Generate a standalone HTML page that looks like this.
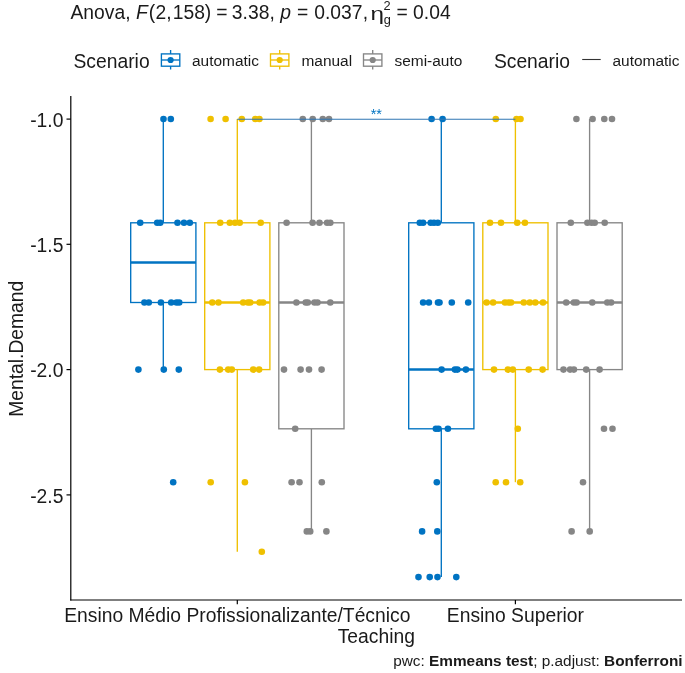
<!DOCTYPE html><html><head><meta charset="utf-8"><style>html,body{margin:0;padding:0;background:#fff;}svg{display:block;will-change:transform;}text{font-family:"Liberation Sans",sans-serif;}</style></head><body>
<svg width="685" height="673" viewBox="0 0 685 673">
<rect width="685" height="673" fill="#fff"/>
<text x="70.5" y="19" font-size="19.3" fill="#1a1a1a">Anova, <tspan font-style="italic">F</tspan><tspan dx="1.0">(</tspan><tspan dx="0.5">2,</tspan><tspan dx="1.0">158)</tspan> <tspan dx="-0.5">=</tspan> <tspan dx="-0.9">3.38,</tspan> <tspan dx="0.1" font-style="italic">p</tspan> <tspan dx="0.6">=</tspan> <tspan dx="0.7">0.037</tspan><tspan dx="0.2">,</tspan></text>
<g transform="translate(370.5,19.5) scale(1.26,0.93)"><text x="0" y="0" font-size="19.3" fill="#1a1a1a">η</text></g>
<text x="383.6" y="10" font-size="12.8" fill="#1a1a1a">2</text>
<text x="383.8" y="24.4" font-size="12.8" fill="#1a1a1a">g</text>
<text x="396.5" y="19" font-size="19.3" fill="#1a1a1a">= 0.04</text>
<text x="73.5" y="67.9" font-size="19.3" fill="#1a1a1a">Scenario</text>
<line x1="170.6" y1="50" x2="170.6" y2="69.5" stroke="#0073C2" stroke-width="1.35"/><rect x="161.4" y="53.9" width="18.4" height="12.3" fill="#fff" stroke="#0073C2" stroke-width="1.35"/><line x1="161.4" y1="60" x2="179.79999999999998" y2="60" stroke="#0073C2" stroke-width="1.35"/><circle cx="170.6" cy="60" r="3.1" fill="#0073C2"/>
<text x="192" y="66" font-size="15.44" fill="#1a1a1a">automatic</text>
<line x1="279.7" y1="50" x2="279.7" y2="69.5" stroke="#EFC000" stroke-width="1.35"/><rect x="270.5" y="53.9" width="18.4" height="12.3" fill="#fff" stroke="#EFC000" stroke-width="1.35"/><line x1="270.5" y1="60" x2="288.9" y2="60" stroke="#EFC000" stroke-width="1.35"/><circle cx="279.7" cy="60" r="3.1" fill="#EFC000"/>
<text x="301.5" y="66" font-size="15.44" fill="#1a1a1a">manual</text>
<line x1="372.7" y1="50" x2="372.7" y2="69.5" stroke="#868686" stroke-width="1.35"/><rect x="363.5" y="53.9" width="18.4" height="12.3" fill="#fff" stroke="#868686" stroke-width="1.35"/><line x1="363.5" y1="60" x2="381.9" y2="60" stroke="#868686" stroke-width="1.35"/><circle cx="372.7" cy="60" r="3.1" fill="#868686"/>
<text x="394.5" y="66" font-size="15.44" fill="#1a1a1a">semi-auto</text>
<text x="493.9" y="67.9" font-size="19.3" fill="#1a1a1a">Scenario</text>
<line x1="582.2" y1="59.5" x2="600.7" y2="59.5" stroke="#333" stroke-width="1.1"/>
<text x="612.5" y="66" font-size="15.44" fill="#1a1a1a">automatic</text>
<line x1="70.8" y1="96" x2="70.8" y2="600.6" stroke="#000" stroke-width="1.2"/>
<line x1="70.2" y1="600" x2="682" y2="600" stroke="#000" stroke-width="1.2"/>
<line x1="66.5" y1="119.1" x2="70.8" y2="119.1" stroke="#000" stroke-width="1.2"/>
<text x="63.4" y="126.89999999999999" font-size="19.3" fill="#1a1a1a" text-anchor="end">-1.0</text>
<line x1="66.5" y1="244.3" x2="70.8" y2="244.3" stroke="#000" stroke-width="1.2"/>
<text x="63.4" y="252.10000000000002" font-size="19.3" fill="#1a1a1a" text-anchor="end">-1.5</text>
<line x1="66.5" y1="369.6" x2="70.8" y2="369.6" stroke="#000" stroke-width="1.2"/>
<text x="63.4" y="377.40000000000003" font-size="19.3" fill="#1a1a1a" text-anchor="end">-2.0</text>
<line x1="66.5" y1="494.9" x2="70.8" y2="494.9" stroke="#000" stroke-width="1.2"/>
<text x="63.4" y="502.7" font-size="19.3" fill="#1a1a1a" text-anchor="end">-2.5</text>
<line x1="237.3" y1="600" x2="237.3" y2="604.3" stroke="#000" stroke-width="1.2"/>
<line x1="515.4" y1="600" x2="515.4" y2="604.3" stroke="#000" stroke-width="1.2"/>
<text x="237.3" y="621.6" font-size="19.3" fill="#1a1a1a" text-anchor="middle">Ensino Médio Profissionalizante/Técnico</text>
<text x="515.4" y="621.6" font-size="19.3" fill="#1a1a1a" text-anchor="middle">Ensino Superior</text>
<text x="376.3" y="642.6" font-size="19.3" fill="#1a1a1a" text-anchor="middle">Teaching</text>
<text transform="translate(22.6,348.8) rotate(-90)" font-size="19.3" fill="#1a1a1a" text-anchor="middle">Mental.Demand</text>
<text x="682.6" y="666.4" font-size="15.36" fill="#1a1a1a" text-anchor="end">pwc: <tspan font-weight="bold">Emmeans test</tspan>; p.adjust: <tspan font-weight="bold">Bonferroni</tspan></text>
<line x1="163.3" y1="119" x2="163.3" y2="222.8" stroke="#0073C2" stroke-width="1.35"/>
<line x1="163.3" y1="302.5" x2="163.3" y2="369.6" stroke="#0073C2" stroke-width="1.35"/>
<rect x="130.70000000000002" y="222.8" width="65.2" height="79.69999999999999" fill="#fff" stroke="#0073C2" stroke-width="1.35"/>
<line x1="130.70000000000002" y1="262.6" x2="195.9" y2="262.6" stroke="#0073C2" stroke-width="2.5"/>
<line x1="237.3" y1="119" x2="237.3" y2="222.8" stroke="#EFC000" stroke-width="1.35"/>
<line x1="237.3" y1="369.6" x2="237.3" y2="551.7" stroke="#EFC000" stroke-width="1.35"/>
<rect x="204.70000000000002" y="222.8" width="65.2" height="146.8" fill="#fff" stroke="#EFC000" stroke-width="1.35"/>
<line x1="204.70000000000002" y1="302.5" x2="269.90000000000003" y2="302.5" stroke="#EFC000" stroke-width="2.5"/>
<line x1="311.4" y1="119" x2="311.4" y2="222.8" stroke="#868686" stroke-width="1.35"/>
<line x1="311.4" y1="428.8" x2="311.4" y2="531.4" stroke="#868686" stroke-width="1.35"/>
<rect x="278.79999999999995" y="222.8" width="65.2" height="206.0" fill="#fff" stroke="#868686" stroke-width="1.35"/>
<line x1="278.79999999999995" y1="302.5" x2="344.0" y2="302.5" stroke="#868686" stroke-width="2.5"/>
<line x1="441.3" y1="119" x2="441.3" y2="222.8" stroke="#0073C2" stroke-width="1.35"/>
<line x1="441.3" y1="428.8" x2="441.3" y2="577.1" stroke="#0073C2" stroke-width="1.35"/>
<rect x="408.7" y="222.8" width="65.2" height="206.0" fill="#fff" stroke="#0073C2" stroke-width="1.35"/>
<line x1="408.7" y1="369.6" x2="473.90000000000003" y2="369.6" stroke="#0073C2" stroke-width="2.5"/>
<line x1="515.4" y1="119" x2="515.4" y2="222.8" stroke="#EFC000" stroke-width="1.35"/>
<line x1="515.4" y1="369.6" x2="515.4" y2="482.2" stroke="#EFC000" stroke-width="1.35"/>
<rect x="482.79999999999995" y="222.8" width="65.2" height="146.8" fill="#fff" stroke="#EFC000" stroke-width="1.35"/>
<line x1="482.79999999999995" y1="302.5" x2="548.0" y2="302.5" stroke="#EFC000" stroke-width="2.5"/>
<line x1="589.6" y1="119" x2="589.6" y2="222.8" stroke="#868686" stroke-width="1.35"/>
<line x1="589.6" y1="369.6" x2="589.6" y2="531.4" stroke="#868686" stroke-width="1.35"/>
<rect x="557.0" y="222.8" width="65.2" height="146.8" fill="#fff" stroke="#868686" stroke-width="1.35"/>
<line x1="557.0" y1="302.5" x2="622.2" y2="302.5" stroke="#868686" stroke-width="2.5"/>
<circle cx="163.5" cy="119" r="3.3" fill="#0073C2"/>
<circle cx="170.8" cy="119" r="3.3" fill="#0073C2"/>
<circle cx="140.2" cy="222.8" r="3.3" fill="#0073C2"/>
<circle cx="157.2" cy="222.8" r="3.3" fill="#0073C2"/>
<circle cx="160.2" cy="222.8" r="3.3" fill="#0073C2"/>
<circle cx="177.5" cy="222.8" r="3.3" fill="#0073C2"/>
<circle cx="184" cy="222.8" r="3.3" fill="#0073C2"/>
<circle cx="189.8" cy="222.8" r="3.3" fill="#0073C2"/>
<circle cx="144.4" cy="302.5" r="3.3" fill="#0073C2"/>
<circle cx="148.8" cy="302.5" r="3.3" fill="#0073C2"/>
<circle cx="160.9" cy="302.5" r="3.3" fill="#0073C2"/>
<circle cx="171.2" cy="302.5" r="3.3" fill="#0073C2"/>
<circle cx="176.5" cy="302.5" r="3.3" fill="#0073C2"/>
<circle cx="179.2" cy="302.5" r="3.3" fill="#0073C2"/>
<circle cx="138.4" cy="369.6" r="3.3" fill="#0073C2"/>
<circle cx="163.8" cy="369.6" r="3.3" fill="#0073C2"/>
<circle cx="178.8" cy="369.6" r="3.3" fill="#0073C2"/>
<circle cx="173.2" cy="482.2" r="3.3" fill="#0073C2"/>
<circle cx="210.6" cy="119" r="3.3" fill="#EFC000"/>
<circle cx="225.6" cy="119" r="3.3" fill="#EFC000"/>
<circle cx="241.8" cy="119" r="3.3" fill="#EFC000"/>
<circle cx="255.3" cy="119" r="3.3" fill="#EFC000"/>
<circle cx="259.4" cy="119" r="3.3" fill="#EFC000"/>
<circle cx="220.2" cy="222.8" r="3.3" fill="#EFC000"/>
<circle cx="229.8" cy="222.8" r="3.3" fill="#EFC000"/>
<circle cx="235" cy="222.8" r="3.3" fill="#EFC000"/>
<circle cx="239.7" cy="222.8" r="3.3" fill="#EFC000"/>
<circle cx="260.7" cy="222.8" r="3.3" fill="#EFC000"/>
<circle cx="212.3" cy="302.5" r="3.3" fill="#EFC000"/>
<circle cx="218.5" cy="302.5" r="3.3" fill="#EFC000"/>
<circle cx="243.2" cy="302.5" r="3.3" fill="#EFC000"/>
<circle cx="247.9" cy="302.5" r="3.3" fill="#EFC000"/>
<circle cx="250.2" cy="302.5" r="3.3" fill="#EFC000"/>
<circle cx="259.6" cy="302.5" r="3.3" fill="#EFC000"/>
<circle cx="263.1" cy="302.5" r="3.3" fill="#EFC000"/>
<circle cx="219.9" cy="369.6" r="3.3" fill="#EFC000"/>
<circle cx="228.2" cy="369.6" r="3.3" fill="#EFC000"/>
<circle cx="231.8" cy="369.6" r="3.3" fill="#EFC000"/>
<circle cx="253.2" cy="369.6" r="3.3" fill="#EFC000"/>
<circle cx="259.1" cy="369.6" r="3.3" fill="#EFC000"/>
<circle cx="210.7" cy="482.2" r="3.3" fill="#EFC000"/>
<circle cx="244.9" cy="482.2" r="3.3" fill="#EFC000"/>
<circle cx="261.8" cy="551.7" r="3.3" fill="#EFC000"/>
<circle cx="302.8" cy="119" r="3.3" fill="#868686"/>
<circle cx="312.7" cy="119" r="3.3" fill="#868686"/>
<circle cx="322.8" cy="119" r="3.3" fill="#868686"/>
<circle cx="329.0" cy="119" r="3.3" fill="#868686"/>
<circle cx="286.6" cy="222.8" r="3.3" fill="#868686"/>
<circle cx="312.6" cy="222.8" r="3.3" fill="#868686"/>
<circle cx="319.5" cy="222.8" r="3.3" fill="#868686"/>
<circle cx="327.1" cy="222.8" r="3.3" fill="#868686"/>
<circle cx="330.3" cy="222.8" r="3.3" fill="#868686"/>
<circle cx="296.4" cy="302.5" r="3.3" fill="#868686"/>
<circle cx="305.7" cy="302.5" r="3.3" fill="#868686"/>
<circle cx="307.8" cy="302.5" r="3.3" fill="#868686"/>
<circle cx="314.5" cy="302.5" r="3.3" fill="#868686"/>
<circle cx="317.5" cy="302.5" r="3.3" fill="#868686"/>
<circle cx="330.3" cy="302.5" r="3.3" fill="#868686"/>
<circle cx="284" cy="369.6" r="3.3" fill="#868686"/>
<circle cx="300.6" cy="369.6" r="3.3" fill="#868686"/>
<circle cx="309" cy="369.6" r="3.3" fill="#868686"/>
<circle cx="321.6" cy="369.6" r="3.3" fill="#868686"/>
<circle cx="295.2" cy="428.8" r="3.3" fill="#868686"/>
<circle cx="291.6" cy="482.2" r="3.3" fill="#868686"/>
<circle cx="299.5" cy="482.2" r="3.3" fill="#868686"/>
<circle cx="321.8" cy="482.2" r="3.3" fill="#868686"/>
<circle cx="306.8" cy="531.4" r="3.3" fill="#868686"/>
<circle cx="310.2" cy="531.4" r="3.3" fill="#868686"/>
<circle cx="326.4" cy="531.4" r="3.3" fill="#868686"/>
<circle cx="431.6" cy="119" r="3.3" fill="#0073C2"/>
<circle cx="442.6" cy="119" r="3.3" fill="#0073C2"/>
<circle cx="419.8" cy="222.8" r="3.3" fill="#0073C2"/>
<circle cx="423.1" cy="222.8" r="3.3" fill="#0073C2"/>
<circle cx="430.7" cy="222.8" r="3.3" fill="#0073C2"/>
<circle cx="434" cy="222.8" r="3.3" fill="#0073C2"/>
<circle cx="437.8" cy="222.8" r="3.3" fill="#0073C2"/>
<circle cx="423.1" cy="302.5" r="3.3" fill="#0073C2"/>
<circle cx="428.9" cy="302.5" r="3.3" fill="#0073C2"/>
<circle cx="438" cy="302.5" r="3.3" fill="#0073C2"/>
<circle cx="439.5" cy="302.5" r="3.3" fill="#0073C2"/>
<circle cx="451.8" cy="302.5" r="3.3" fill="#0073C2"/>
<circle cx="468.2" cy="302.5" r="3.3" fill="#0073C2"/>
<circle cx="441.6" cy="369.6" r="3.3" fill="#0073C2"/>
<circle cx="454.9" cy="369.6" r="3.3" fill="#0073C2"/>
<circle cx="457.4" cy="369.6" r="3.3" fill="#0073C2"/>
<circle cx="465.9" cy="369.6" r="3.3" fill="#0073C2"/>
<circle cx="435.9" cy="428.8" r="3.3" fill="#0073C2"/>
<circle cx="438.5" cy="428.8" r="3.3" fill="#0073C2"/>
<circle cx="447.9" cy="428.8" r="3.3" fill="#0073C2"/>
<circle cx="436.8" cy="482.2" r="3.3" fill="#0073C2"/>
<circle cx="422.1" cy="531.4" r="3.3" fill="#0073C2"/>
<circle cx="437.3" cy="531.4" r="3.3" fill="#0073C2"/>
<circle cx="418.5" cy="577.1" r="3.3" fill="#0073C2"/>
<circle cx="429.7" cy="577.1" r="3.3" fill="#0073C2"/>
<circle cx="437.5" cy="577.1" r="3.3" fill="#0073C2"/>
<circle cx="456.3" cy="577.1" r="3.3" fill="#0073C2"/>
<circle cx="495.8" cy="119" r="3.3" fill="#EFC000"/>
<circle cx="516.5" cy="119" r="3.3" fill="#EFC000"/>
<circle cx="520.5" cy="119" r="3.3" fill="#EFC000"/>
<circle cx="490" cy="222.8" r="3.3" fill="#EFC000"/>
<circle cx="501" cy="222.8" r="3.3" fill="#EFC000"/>
<circle cx="517.2" cy="222.8" r="3.3" fill="#EFC000"/>
<circle cx="524.9" cy="222.8" r="3.3" fill="#EFC000"/>
<circle cx="486.6" cy="302.5" r="3.3" fill="#EFC000"/>
<circle cx="493.1" cy="302.5" r="3.3" fill="#EFC000"/>
<circle cx="505" cy="302.5" r="3.3" fill="#EFC000"/>
<circle cx="508.5" cy="302.5" r="3.3" fill="#EFC000"/>
<circle cx="511" cy="302.5" r="3.3" fill="#EFC000"/>
<circle cx="523.8" cy="302.5" r="3.3" fill="#EFC000"/>
<circle cx="529.8" cy="302.5" r="3.3" fill="#EFC000"/>
<circle cx="535.3" cy="302.5" r="3.3" fill="#EFC000"/>
<circle cx="543" cy="302.5" r="3.3" fill="#EFC000"/>
<circle cx="494" cy="369.6" r="3.3" fill="#EFC000"/>
<circle cx="507.9" cy="369.6" r="3.3" fill="#EFC000"/>
<circle cx="512.8" cy="369.6" r="3.3" fill="#EFC000"/>
<circle cx="528.7" cy="369.6" r="3.3" fill="#EFC000"/>
<circle cx="542.6" cy="369.6" r="3.3" fill="#EFC000"/>
<circle cx="517.8" cy="428.8" r="3.3" fill="#EFC000"/>
<circle cx="495.7" cy="482.2" r="3.3" fill="#EFC000"/>
<circle cx="506" cy="482.2" r="3.3" fill="#EFC000"/>
<circle cx="520.2" cy="482.2" r="3.3" fill="#EFC000"/>
<circle cx="576.4" cy="119" r="3.3" fill="#868686"/>
<circle cx="592.6" cy="119" r="3.3" fill="#868686"/>
<circle cx="604.3" cy="119" r="3.3" fill="#868686"/>
<circle cx="612" cy="119" r="3.3" fill="#868686"/>
<circle cx="570.8" cy="222.8" r="3.3" fill="#868686"/>
<circle cx="587.4" cy="222.8" r="3.3" fill="#868686"/>
<circle cx="591.6" cy="222.8" r="3.3" fill="#868686"/>
<circle cx="594.7" cy="222.8" r="3.3" fill="#868686"/>
<circle cx="604.7" cy="222.8" r="3.3" fill="#868686"/>
<circle cx="566.2" cy="302.5" r="3.3" fill="#868686"/>
<circle cx="573.9" cy="302.5" r="3.3" fill="#868686"/>
<circle cx="576.6" cy="302.5" r="3.3" fill="#868686"/>
<circle cx="592.3" cy="302.5" r="3.3" fill="#868686"/>
<circle cx="607.3" cy="302.5" r="3.3" fill="#868686"/>
<circle cx="611.1" cy="302.5" r="3.3" fill="#868686"/>
<circle cx="563.5" cy="369.6" r="3.3" fill="#868686"/>
<circle cx="570.1" cy="369.6" r="3.3" fill="#868686"/>
<circle cx="573.9" cy="369.6" r="3.3" fill="#868686"/>
<circle cx="586.2" cy="369.6" r="3.3" fill="#868686"/>
<circle cx="599.6" cy="369.6" r="3.3" fill="#868686"/>
<circle cx="604" cy="428.8" r="3.3" fill="#868686"/>
<circle cx="612.5" cy="428.8" r="3.3" fill="#868686"/>
<circle cx="583" cy="482.2" r="3.3" fill="#868686"/>
<circle cx="571.6" cy="531.4" r="3.3" fill="#868686"/>
<circle cx="589.7" cy="531.4" r="3.3" fill="#868686"/>
<line x1="237.3" y1="119.2" x2="515.4" y2="119.2" stroke="#2f76b3" stroke-width="1.1"/>
<text x="376.3" y="118.6" font-size="14.5" fill="#0073C2" text-anchor="middle">**</text>
</svg></body></html>
